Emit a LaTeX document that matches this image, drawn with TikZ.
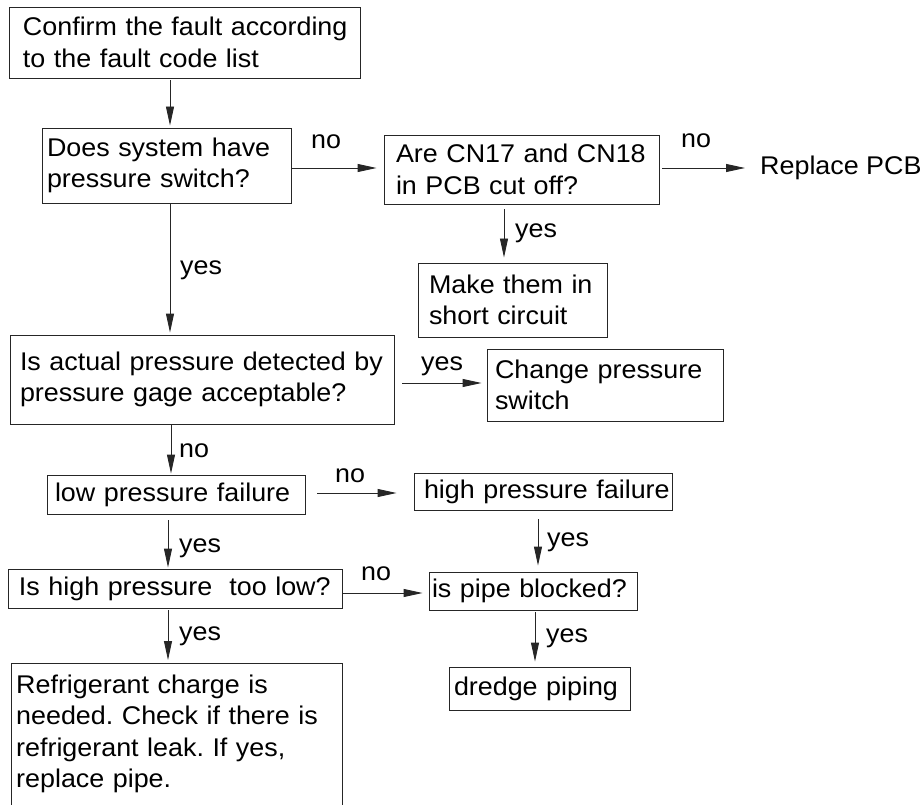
\documentclass[tikz,border=0pt]{standalone}
\usepackage{fontspec}
\setmainfont{Liberation Sans}[FakeStretch=1.05]
\usetikzlibrary{arrows.meta}
\frenchspacing
\newcommand{\fsz}{\fontsize{25.6}{31.5}\selectfont}
\tikzset{
  boxline/.style={draw=black!85, line width=0.9pt},
  box/.style={boxline, inner ysep=0pt, align=left, font=\fsz, text=black},
  lbl/.style={inner sep=0pt, anchor=base west, font=\fsz, text=black},
  arr/.style={draw=black!85, line width=0.9pt, -{Triangle[length=19pt,width=8pt]}},
}
\newcommand{\bx}[7]{%
  \node[box, minimum width={(#4-#2)*1pt}, minimum height={(#5-#3)*1pt},
        inner xsep=#6pt, text width=\dimexpr #4pt-#2pt-#6pt-#6pt\relax]
        (#1) at ({(#2+#4)/2},{(#3+#5)/2}) {#7};}
\begin{document}
\begin{tikzpicture}[x=1pt,y=-1pt]
\useasboundingbox (0,0) rectangle (924,805);
\clip (0,0) rectangle (924,805);

\bx{b1}{9}{7}{360}{78}{14}{\mbox{Confirm the fault according}\\\mbox{to the fault code list}}
\bx{b2}{42}{128}{291}{203}{5}{\mbox{Does system have}\\\mbox{pressure switch?}}
\bx{b3}{384}{135}{659}{204}{12}{\mbox{Are CN17 and CN18}\\\mbox{in PCB cut off?}}
\bx{b4}{418}{263}{607}{337}{11}{\mbox{Make them in}\\\mbox{short circuit}}
\bx{b5}{10}{335}{394}{424}{10}{\mbox{Is actual pressure detected by}\\\mbox{pressure gage acceptable?}}
\bx{b6}{487}{349}{723}{421}{8}{\mbox{Change pressure}\\\mbox{switch}}
\bx{b7}{47}{475}{305}{514}{8}{\mbox{low pressure failure}}
\bx{b8}{414}{473}{672}{510}{10}{\mbox{high pressure failure}}
\bx{b9}{8}{569}{342}{608}{11}{\mbox{Is high pressure\ \ too low?}}
\bx{b10}{429}{572}{637}{610}{3}{\mbox{is pipe blocked?}}
\bx{b11}{449}{667}{630}{710}{5}{\mbox{dredge piping}}

\node[inner xsep=5pt, inner ysep=11.3pt, anchor=north west, align=left, font=\fsz,
      text width=321pt] (b12) at (11,663)
  {\mbox{Refrigerant charge is}\\\mbox{needed. Check if there is}\\\mbox{refrigerant leak. If yes,}\\\mbox{replace pipe.}};
\draw[boxline] ([yshift=-60pt]b12.south west) |- (b12.north east) -- ([yshift=-60pt]b12.south east);

\node[lbl] (pcb) at (760,175) {Replace PCB};

\coordinate (xA) at (170,0);
\coordinate (xB) at (504,0);
\coordinate (xC) at (171,0);
\coordinate (xD) at (168,0);
\coordinate (xE) at (538,0);
\coordinate (xF) at (535,0);
\coordinate (yA) at (0,168);
\coordinate (yB) at (0,383);
\coordinate (yC) at (0,493);
\coordinate (yD) at (0,593);

\draw[arr, shorten <=2pt, shorten >=2pt] (b1.south -| xA) -- (b2.north -| xA);
\draw[arr, shorten <=1pt, shorten >=7pt] (b2.east |- yA) -- (b3.west |- yA);
\draw[arr, shorten <=3pt, shorten >=15pt] (b3.east |- yA) -- (pcb.west |- yA);
\draw[arr, shorten <=5pt, shorten >=5pt] (b3.south -| xB) -- (b4.north -| xB);
\draw[arr, shorten >=2pt] (b2.south -| xA) -- (b5.north -| xA);
\draw[arr, shorten <=8pt, shorten >=5pt] (b5.east |- yB) -- (b6.west |- yB);
\draw[arr, shorten >=1pt] (b5.south -| xC) -- (b7.north -| xC);
\draw[arr, shorten <=12pt, shorten >=17pt] (b7.east |- yC) -- (b8.west |- yC);
\draw[arr, shorten <=6pt, shorten >=1pt] (b7.south -| xD) -- (b9.north -| xD);
\draw[arr, shorten <=9pt, shorten >=6pt] (b8.south -| xE) -- (b10.north -| xE);
\draw[arr, shorten <=1pt, shorten >=6pt] (b9.east |- yD) -- (b10.west |- yD);
\draw[arr, shorten <=2pt, shorten >=3pt] (b9.south -| xD) -- (b12.north -| xD);
\draw[arr, shorten <=2pt, shorten >=5pt] (b10.south -| xF) -- (b11.north -| xF);

\node[lbl] (l1) at (311,149) {no};
\node[lbl] (l2) at (681,148) {no};
\node[lbl] (l3) at (180,275) {yes};
\node[lbl] (l4) at (515,238) {yes};
\node[lbl] (l5) at (421,370) {yes};
\node[lbl] (l6) at (179,457) {no};
\node[lbl] (l7) at (335,482) {no};
\node[lbl] (l8) at (179,552) {yes};
\node[lbl] (l9) at (547,546) {yes};
\node[lbl] (l10) at (361,580) {no};
\node[lbl] (l11) at (179,640) {yes};
\node[lbl] (l12) at (546,642) {yes};
\end{tikzpicture}
\end{document}
